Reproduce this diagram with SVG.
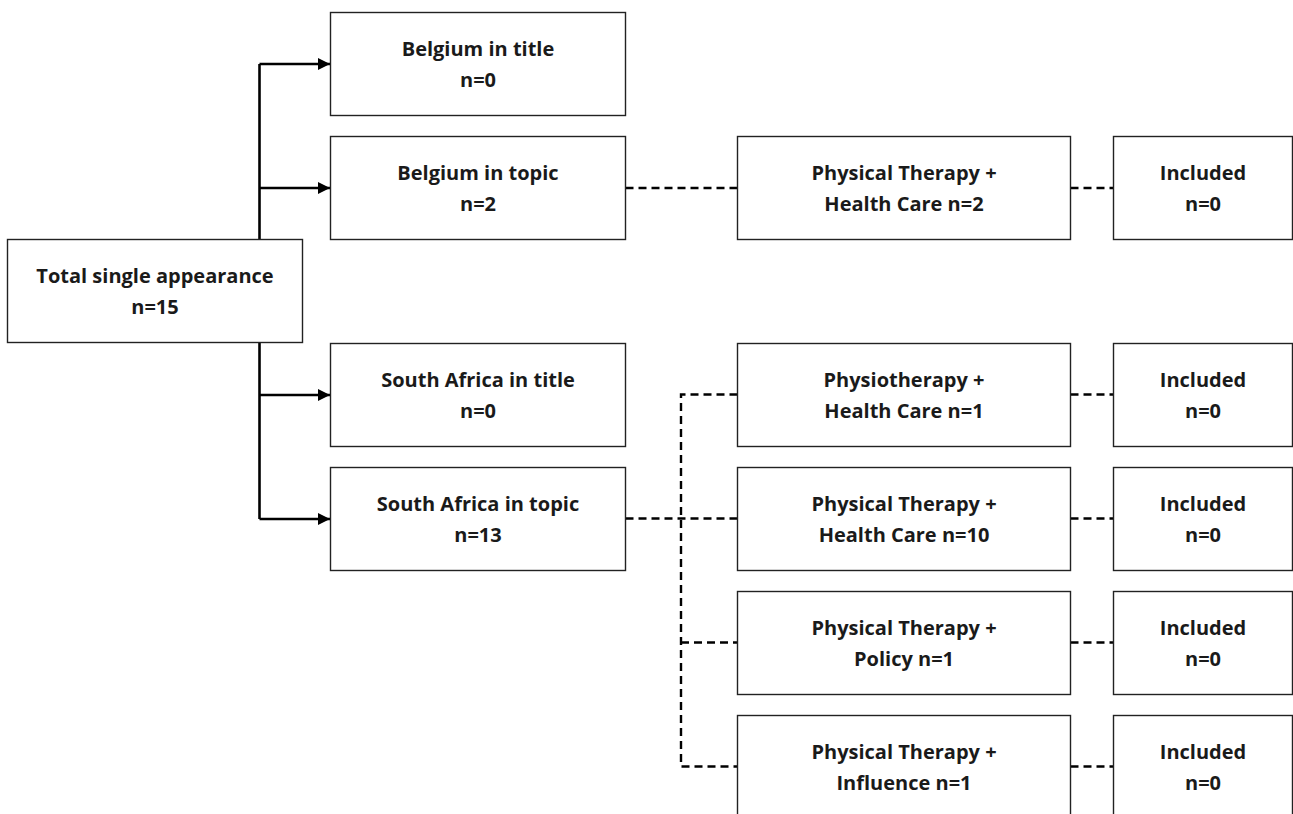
<svg xmlns="http://www.w3.org/2000/svg" width="1293" height="814" viewBox="0 0 1293 814">
<defs>
<style>
.box{fill:#fff;stroke:#222;stroke-width:1.4}
.t{font-family:"Open Sans","Noto Sans","Liberation Sans",sans-serif;font-weight:bold;font-size:20px;fill:#1a1a1a;text-anchor:middle}
.solid{fill:none;stroke:#000;stroke-width:2.6}
.dash{fill:none;stroke:#000;stroke-width:2.4;stroke-dasharray:8 5}
</style>
<marker id="ah" viewBox="0 0 10 10" refX="10" refY="5" markerWidth="12" markerHeight="15" markerUnits="userSpaceOnUse" orient="auto">
<path d="M0,0 L10,5 L0,10 Z" fill="#000"/>
</marker>
</defs>
<rect width="1293" height="814" fill="#fff"/>
<g id="connectors">
<path class="solid" d="M259.5,342 V519"/>
<path class="solid" d="M259.5,239 V64"/>
<path class="solid" d="M259.5,64 H330" marker-end="url(#ah)"/>
<path class="solid" d="M259.5,188 H330" marker-end="url(#ah)"/>
<path class="solid" d="M259.5,395 H330" marker-end="url(#ah)"/>
<path class="solid" d="M259.5,519 H330" marker-end="url(#ah)"/>
<path class="dash" d="M625.5,188 H737.5"/>
<path class="dash" d="M1070.5,188 H1113.5"/>
<path class="dash" d="M625.5,518.5 H737.5"/>
<path class="dash" d="M737.5,394.5 H681 V766.5 H737.5"/>
<path class="dash" d="M681,642.5 H737.5"/>
<path class="dash" d="M1070.5,394.5 H1113.5"/>
<path class="dash" d="M1070.5,518.5 H1113.5"/>
<path class="dash" d="M1070.5,642.5 H1113.5"/>
<path class="dash" d="M1070.5,766.5 H1113.5"/>
</g>
<g id="total"><rect class="box" x="7.5" y="239.5" width="295" height="103"/><text class="t" x="155" y="282.5">Total single appearance</text><text class="t" x="155" y="314">n=15</text></g>
<g id="belgium-title"><rect class="box" x="330.5" y="12.5" width="295" height="103"/><text class="t" x="478" y="55.5">Belgium in title</text><text class="t" x="478" y="87">n=0</text></g>
<g id="belgium-topic"><rect class="box" x="330.5" y="136.5" width="295" height="103"/><text class="t" x="478" y="179.5">Belgium in topic</text><text class="t" x="478" y="211">n=2</text></g>
<g id="sa-title"><rect class="box" x="330.5" y="343.5" width="295" height="103"/><text class="t" x="478" y="386.5">South Africa in title</text><text class="t" x="478" y="418">n=0</text></g>
<g id="sa-topic"><rect class="box" x="330.5" y="467.5" width="295" height="103"/><text class="t" x="478" y="510.5">South Africa in topic</text><text class="t" x="478" y="542">n=13</text></g>
<g id="be-pt-hc"><rect class="box" x="737.5" y="136.5" width="333" height="103"/><text class="t" x="904" y="179.5">Physical Therapy +</text><text class="t" x="904" y="211">Health Care n=2</text></g>
<g id="be-inc"><rect class="box" x="1113.5" y="136.5" width="179" height="103"/><text class="t" x="1203" y="179.5">Included</text><text class="t" x="1203" y="211">n=0</text></g>
<g id="sa-physio-hc"><rect class="box" x="737.5" y="343.5" width="333" height="103"/><text class="t" x="904" y="386.5">Physiotherapy +</text><text class="t" x="904" y="418">Health Care n=1</text></g>
<g id="sa-inc1"><rect class="box" x="1113.5" y="343.5" width="179" height="103"/><text class="t" x="1203" y="386.5">Included</text><text class="t" x="1203" y="418">n=0</text></g>
<g id="sa-pt-hc"><rect class="box" x="737.5" y="467.5" width="333" height="103"/><text class="t" x="904" y="510.5">Physical Therapy +</text><text class="t" x="904" y="542">Health Care n=10</text></g>
<g id="sa-inc2"><rect class="box" x="1113.5" y="467.5" width="179" height="103"/><text class="t" x="1203" y="510.5">Included</text><text class="t" x="1203" y="542">n=0</text></g>
<g id="sa-pt-policy"><rect class="box" x="737.5" y="591.5" width="333" height="103"/><text class="t" x="904" y="634.5">Physical Therapy +</text><text class="t" x="904" y="666">Policy n=1</text></g>
<g id="sa-inc3"><rect class="box" x="1113.5" y="591.5" width="179" height="103"/><text class="t" x="1203" y="634.5">Included</text><text class="t" x="1203" y="666">n=0</text></g>
<g id="sa-pt-influence"><rect class="box" x="737.5" y="715.5" width="333" height="110"/><text class="t" x="904" y="758.5">Physical Therapy +</text><text class="t" x="904" y="790">Influence n=1</text></g>
<g id="sa-inc4"><rect class="box" x="1113.5" y="715.5" width="179" height="110"/><text class="t" x="1203" y="758.5">Included</text><text class="t" x="1203" y="790">n=0</text></g>
</svg>
